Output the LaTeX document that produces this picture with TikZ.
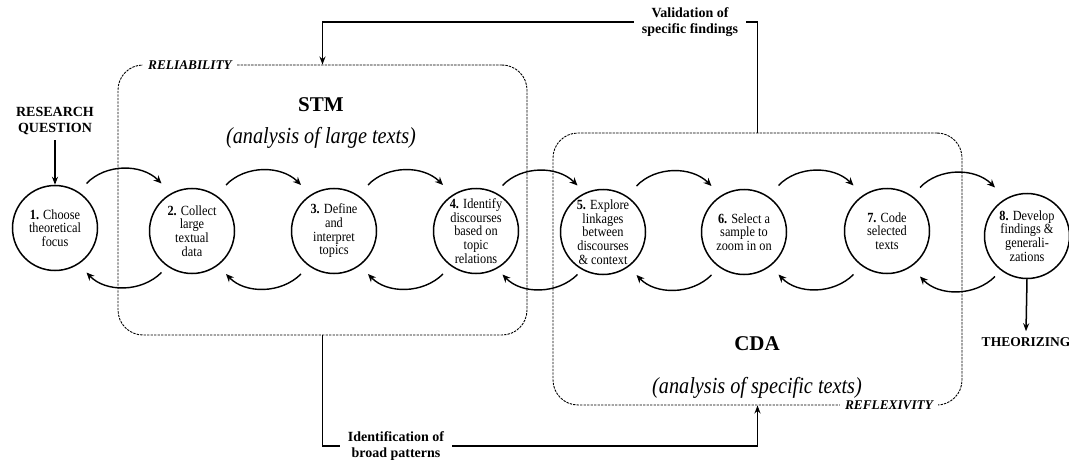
\documentclass[tikz,border=0pt]{standalone}
\usepackage{fontspec}
\setmainfont{Liberation Serif}
\newfontfamily\cond[FakeStretch=0.88]{Liberation Serif}
\usetikzlibrary{arrows.meta,calc}
\tikzset{
  stepnode/.style={draw,circle,line width=1.5pt,minimum size=85pt,inner sep=0pt,align=center,
    font=\cond\fontsize{14}{13.7}\selectfont},
  cyc/.style={line width=1.4pt,-{Stealth[length=8pt,width=7pt]}},
  conn/.style={line width=1.5pt},
  tip/.style={-{Stealth[length=8pt,width=6pt]}},
  box/.style={draw,line width=0.9pt,dash pattern=on 2.4pt off 1.1pt,rounded corners=25pt,inner sep=0pt},
  lbl/.style={align=center,font=\fontsize{14}{16.5}\selectfont\bfseries},
  boxlbl/.style={fill=white,inner sep=5pt,font=\fontsize{13.3}{14}\selectfont\bfseries\itshape},
  subt/.style={font=\cond\fontsize{23}{24}\selectfont\itshape},
}
\newcommand\cycarrows[2]{%
  \draw[cyc] ($(#1)!0.5!(#2)+(-37,-46)$) .. controls ($(#1)!0.5!(#2)+(-18,-66)$) and ($(#1)!0.5!(#2)+(18,-66)$) .. ($(#1)!0.5!(#2)+(38,-46)$);
  \draw[cyc] ($(#1)!0.5!(#2)+(38,43)$) .. controls ($(#1)!0.5!(#2)+(18,63)$) and ($(#1)!0.5!(#2)+(-18,63)$) .. ($(#1)!0.5!(#2)+(-37,43)$);
}
\begin{document}
\begin{tikzpicture}[x=1pt,y=-1pt]
\useasboundingbox (0,0) rectangle (1069,460);
% boxes
\node[box,minimum width=409pt,minimum height=270pt] (stm) at (322.5,200) {};
\node[box,minimum width=409pt,minimum height=272pt] (cda) at (757.5,269) {};
\node[boxlbl] (rel) at (190,65) {RELIABILITY};
\node[boxlbl] (refl) at (889,405) {REFLEXIVITY};
\node[font=\fontsize{21}{22}\selectfont\bfseries] (stmt) at (321,105) {STM};
\node[subt] (stms) at (321,138) {(analysis of large texts)};
\node[font=\fontsize{21}{22}\selectfont\bfseries] (cdat) at (757,344) {CDA};
\node[subt] (cdas) at (757,388) {(analysis of specific texts)};
% circles
\node[stepnode] (c1) at (55,228) {\textbf{1.} Choose\\theoretical\\focus};
\node[stepnode] (c2) at (192,231) {\textbf{2.} Collect\\large\\textual\\data};
\node[stepnode] (c3) at (334,231) {\textbf{3.} Define\\and\\interpret\\topics};
\node[stepnode] (c4) at (476,231) {\textbf{4.} Identify\\discourses\\based on\\topic\\relations};
\node[stepnode] (c5) at (603,232) {\textbf{5.} Explore\\linkages\\between\\discourses\\\& context};
\node[stepnode] (c6) at (744,232) {\textbf{6.} Select a\\sample to\\zoom in on};
\node[stepnode] (c7) at (887,231) {\textbf{7.} Code\\selected\\texts};
\node[stepnode] (c8) at (1027,236) {\textbf{8.} Develop\\findings \&\\generali-\\zations};
\cycarrows{c1}{c2}
\cycarrows{c2}{c3}
\cycarrows{c3}{c4}
\cycarrows{c4}{c5}
\cycarrows{c5}{c6}
\cycarrows{c6}{c7}
\cycarrows{c7}{c8}
% labels
\node[lbl,inner sep=5pt] (rq) at (55,121) {RESEARCH\\QUESTION};
\node[lbl,inner sep=6pt,font=\fontsize{13.5}{16}\selectfont\bfseries] (theo) at (1026,342) {THEORIZING};
\node[lbl,inner sep=8pt] (valid) at (690,22) {Validation of\\specific findings};
\node[lbl,inner sep=8pt] (ident) at (396,446) {Identification of\\broad patterns};
% connectors
\draw[conn,tip] (rq.south) -- (c1.north);
\draw[conn,tip] (c8.south) -- (theo.north);
\draw[conn,tip] (valid.west) -| (stm.north);
\draw[conn] (valid.east) -| (cda.north);
\draw[conn] (stm.south) |- (ident.west);
\draw[conn,tip] (ident.east) -| (cda.south);
\end{tikzpicture}
\end{document}
